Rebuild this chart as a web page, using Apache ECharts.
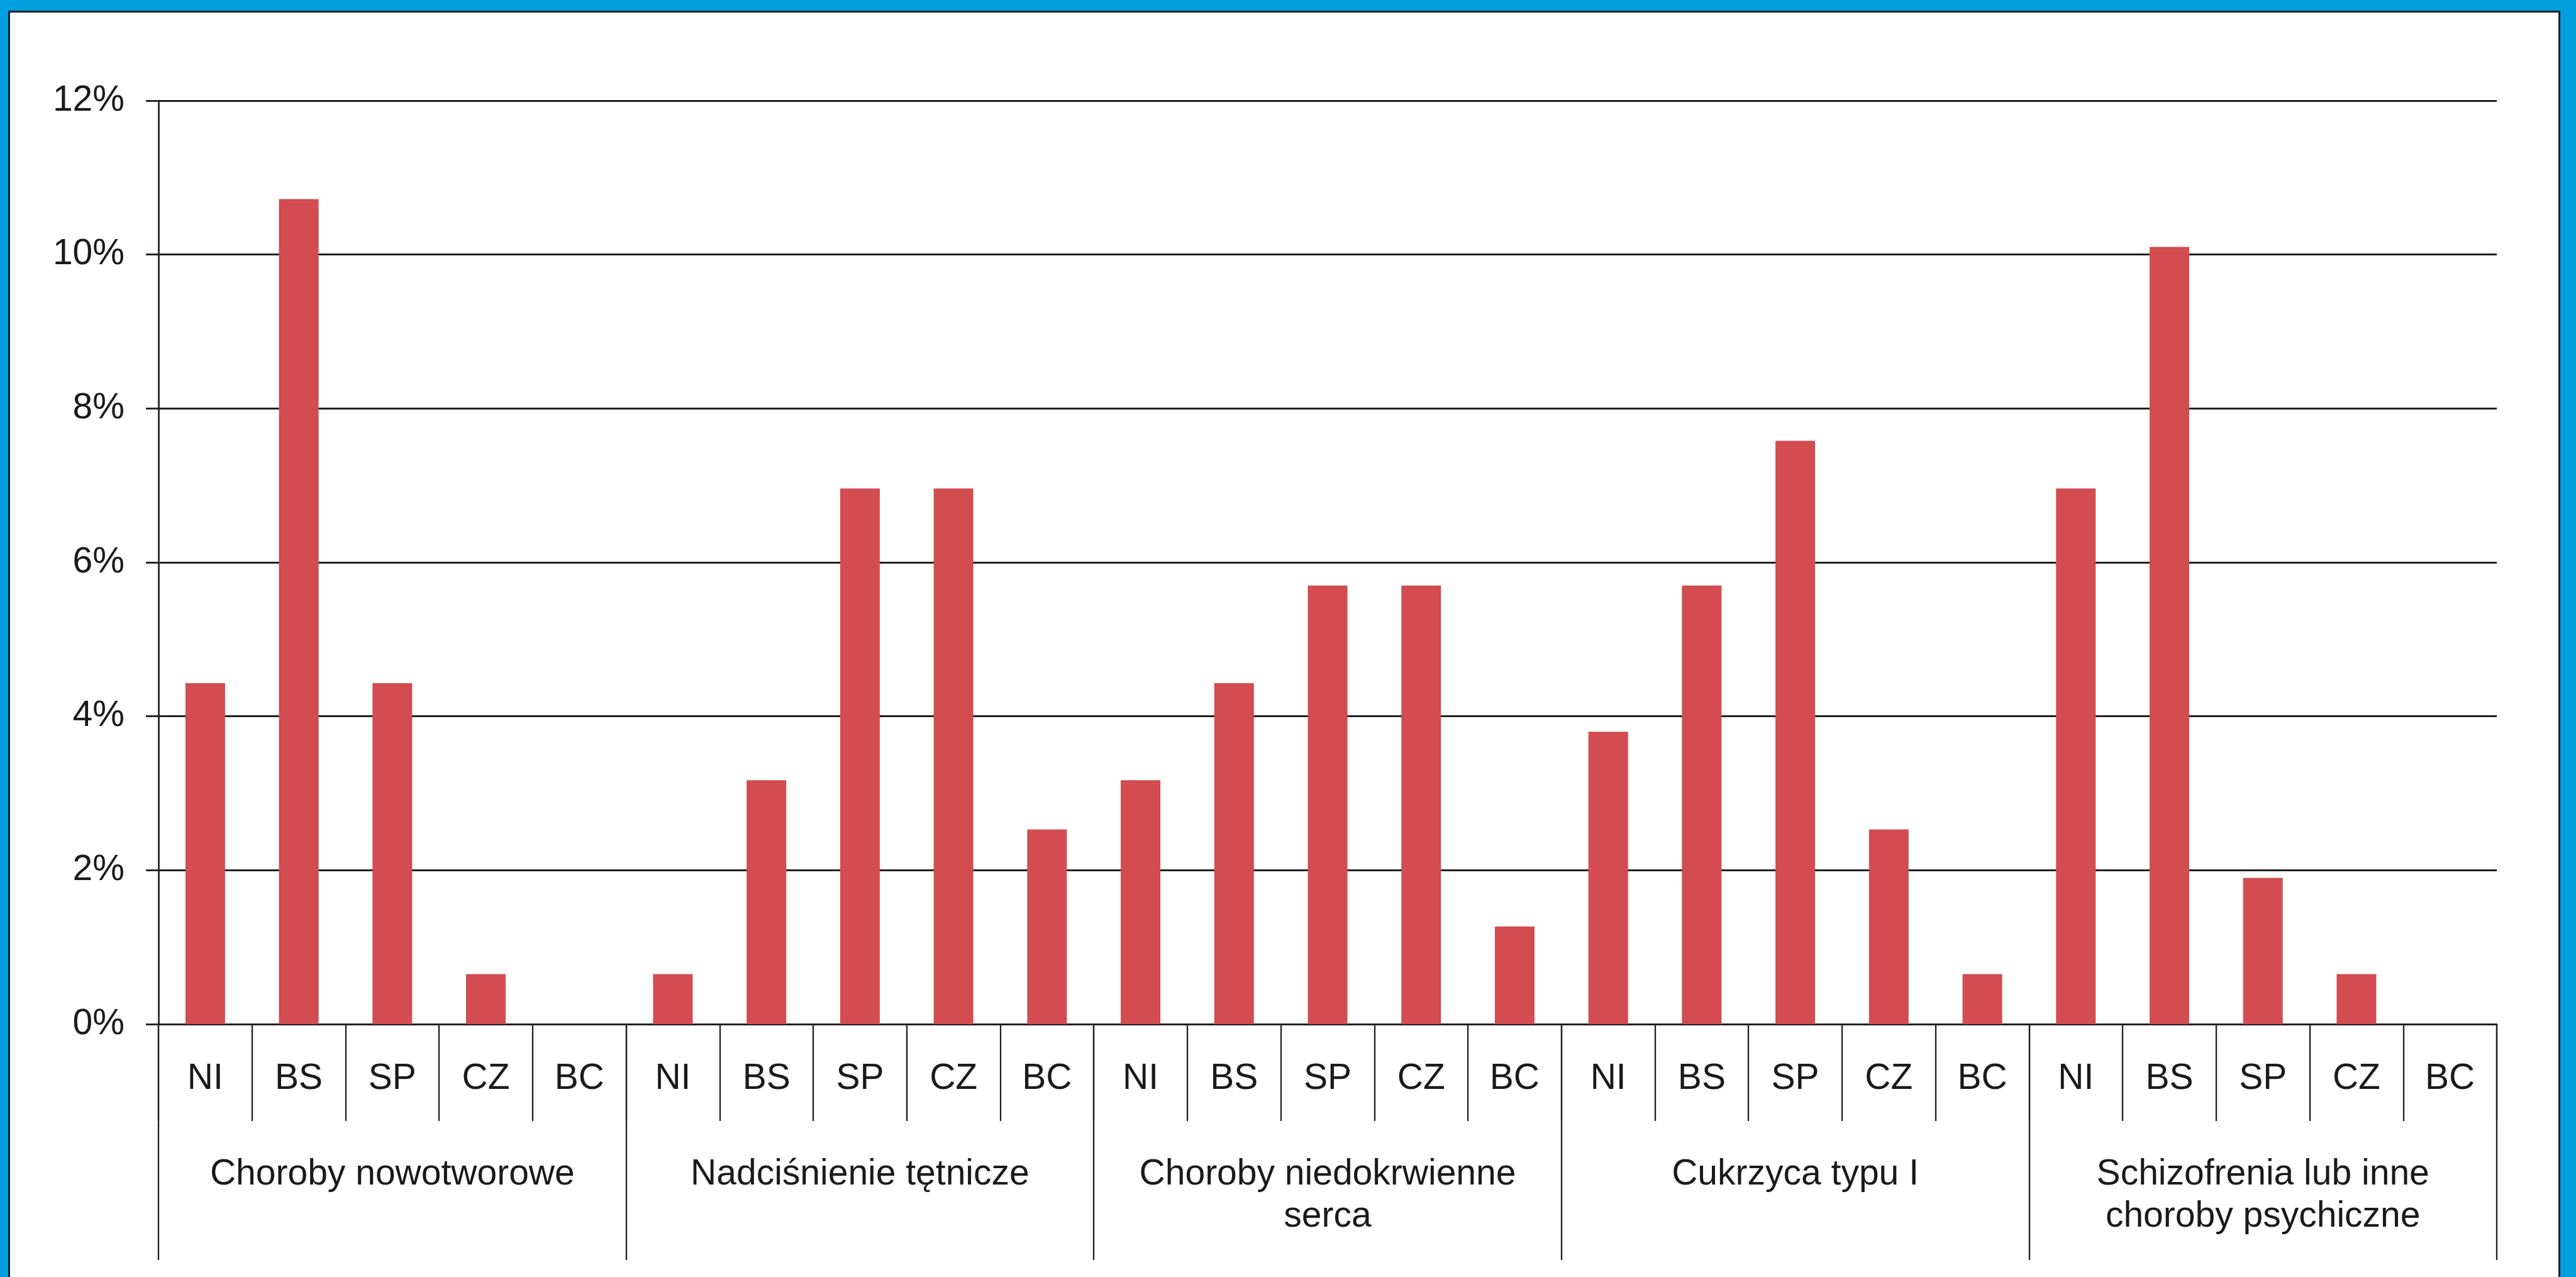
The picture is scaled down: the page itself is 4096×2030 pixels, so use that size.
<!DOCTYPE html>
<html>
<head>
<meta charset="utf-8">
<script src="https://cdn.jsdelivr.net/npm/echarts@6/dist/echarts.min.js"></script>
<style>
  html, body { margin: 0; padding: 0; width: 4096px; height: 2030px; overflow: hidden; background: #009fe0; }
  #frame { position: absolute; left: 13px; top: 17px; width: 4052px; height: 2100px; border: 3px solid #231f20; background: #ffffff; }
  #chart { position: absolute; left: 0; top: 0; width: 4096px; height: 2030px; }
</style>
</head>
<body>
<div id="frame"></div>
<div id="chart"></div>
<script>
// Sub-categories (respondent groups) and disease groups
const subLabels = ['NI', 'BS', 'SP', 'CZ', 'BC'];
const groups = [
  'Choroby nowotworowe',
  'Nadciśnienie tętnicze',
  'Choroby niedokrwienne\nserca',
  'Cukrzyca typu I',
  'Schizofrenia lub inne\nchoroby psychiczne'
];
// Values in percent, per group (NI, BS, SP, CZ, BC)
const nowotworowe   = [4.43, 10.72, 4.43, 0.65, 0];
const nadcisnienie  = [0.65, 3.17, 6.96, 6.96, 2.53];
const niedokrwienne = [3.17, 4.43, 5.70, 5.70, 1.27];
const cukrzyca      = [3.80, 5.70, 7.58, 2.53, 0.65];
const schizofrenia  = [6.96, 10.10, 1.90, 0.65, 0];
const yTicks = [0, 2, 4, 6, 8, 10, 12];

const categories = [];
groups.forEach(() => subLabels.forEach(s => categories.push(s)));
const values = [].concat(nowotworowe, nadcisnienie, niedokrwienne, cukrzyca, schizofrenia);

const ink = '#231f20';
const font = 'Liberation Sans, Arial, sans-serif';
const chart = echarts.init(document.getElementById('chart'), null, { renderer: 'canvas' });
chart.setOption({
  animation: false,
  backgroundColor: 'transparent',
  grid: { left: 252, right: 126, top: 160, bottom: 402, containLabel: false },
  xAxis: [
    {
      type: 'category', data: categories, position: 'bottom',
      axisLine: { show: true, lineStyle: { color: ink, width: 2.7 } },
      axisTick: { show: true, interval: 0, length: 154, lineStyle: { color: ink, width: 2.3 } },
      axisLabel: { interval: 0, margin: 59, fontSize: 57, lineHeight: 57, color: '#1a1a1a', fontFamily: font },
      splitLine: { show: false }
    },
    {
      type: 'category', data: groups, position: 'bottom',
      axisLine: { show: false },
      axisTick: { show: true, interval: 0, length: 375, lineStyle: { color: ink, width: 2.3 } },
      axisLabel: { interval: 0, margin: 206, fontSize: 57, lineHeight: 67, color: '#1a1a1a', fontFamily: font, align: 'center' },
      splitLine: { show: false }
    }
  ],
  yAxis: {
    type: 'value', min: yTicks[0], max: yTicks[yTicks.length - 1], interval: 2,
    axisLine: { show: true, lineStyle: { color: ink, width: 2.7 } },
    axisTick: { show: true, length: 20, lineStyle: { color: ink, width: 2.9 } },
    axisLabel: { margin: 54, fontSize: 57, color: '#1a1a1a', fontFamily: font, formatter: '{value}%' },
    splitLine: { show: true, lineStyle: { color: ink, width: 2.9 } }
  },
  series: [{
    type: 'bar', xAxisIndex: 0, data: values, barWidth: 63, barGap: '0%',
    itemStyle: { color: '#d24c50' }
  }]
});
</script>
</body>
</html>
